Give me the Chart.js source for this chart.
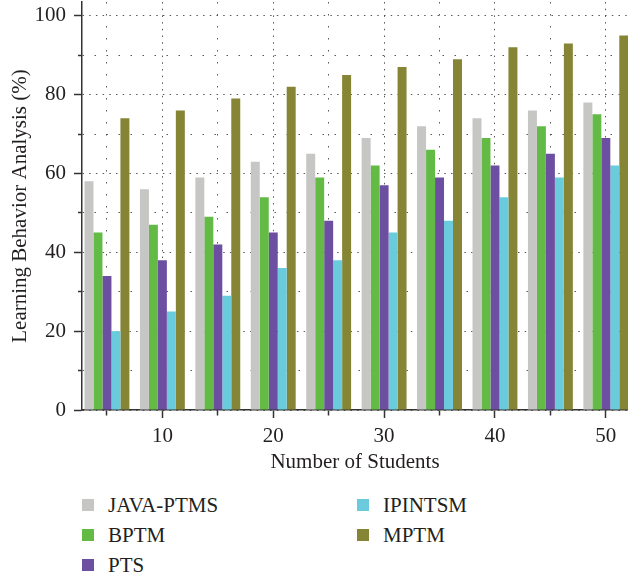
<!DOCTYPE html>
<html lang="en">
<head>
    <meta charset="UTF-8">
    <title>Learning Behavior Analysis</title>
    <script src="https://cdn.jsdelivr.net/npm/chart.js"></script>
    <style>
        body { margin: 0; background: #fff; }
        .wrap { position: relative; width: 628px; height: 578px; }
        #chart-box { position: absolute; left: 0; top: 0; width: 628px; height: 480px; }
        .legend { position: absolute; left: 82px; top: 493px; width: 540px;
            display: grid; grid-template-columns: 275px 265px; grid-auto-flow: column;
            grid-template-rows: 30px 30px 30px;
            font-family: "Liberation Serif", serif; font-size: 21px; color: #231f20; }
        .legend div { display: flex; align-items: center; height: 24px; }
        .legend span.box { width: 12px; height: 12px; margin-right: 14px; display: inline-block; }
    </style>
</head>
<body>
<div class="wrap">
    <div id="chart-box"><canvas id="chart"></canvas></div>
    <div class="legend" id="legend"></div>
</div>
<script>
    // data
    const students = [5, 10, 15, 20, 25, 30, 35, 40, 45, 50];
    const javaPtms = [58, 56, 59, 63, 65, 69, 72, 74, 76, 78];
    const bptm     = [45, 47, 49, 54, 59, 62, 66, 69, 72, 75];
    const pts      = [34, 38, 42, 45, 48, 57, 59, 62, 65, 69];
    const ipintsm  = [20, 25, 29, 36, 38, 45, 48, 54, 59, 62];
    const mptm     = [74, 76, 79, 82, 85, 87, 89, 92, 93, 95];

    const seriesNames = ['JAVA-PTMS', 'BPTM', 'PTS', 'IPINTSM', 'MPTM'];
    const seriesData = [javaPtms, bptm, pts, ipintsm, mptm];
    const seriesColors = ['#c6c6c5', '#63bb46', '#6c4fa0', '#6acbdc', '#858535'];

    const font = { family: '"Liberation Serif", serif', size: 21 };
    const ink = '#231f20';
    const axisColor = '#333333';
    const dotColor = 'rgba(60,60,60,0.85)';

    const datasets = seriesNames.map((name, k) => ({
        label: name,
        data: students.map((s, i) => ({ x: s, y: seriesData[k][i] })),
        backgroundColor: seriesColors[k],
        borderWidth: 0,
        categoryPercentage: 0.81,
        barPercentage: 1.0
    }));

    new Chart(document.getElementById('chart').getContext('2d'), {
        type: 'bar',
        data: { datasets: datasets },
        options: {
            responsive: true,
            maintainAspectRatio: false,
            animation: false,
            layout: { padding: { top: 2, right: 0, bottom: 0, left: 0 } },
            plugins: { legend: { display: false }, tooltip: { enabled: false } },
            scales: {
                x: {
                    type: 'linear',
                    min: 2.75,
                    max: 52,
                    offset: false,
                    afterFit: (s) => { s.height = 70; s.paddingLeft = 0; s.paddingRight = 0; },
                    ticks: {
                        stepSize: 5,
                        includeBounds: false,
                        autoSkip: false,
                        maxRotation: 0,
                        padding: 6,
                        color: ink,
                        font: font,
                        callback: (v) => (v % 10 === 0 ? v : '')
                    },
                    grid: {
                        offset: false,
                        color: dotColor,
                        lineWidth: 1,
                        tickLength: 8,
                        tickColor: axisColor,
                        tickWidth: 1.5,
                        // minor ticks only half as long
                        tickBorderDash: (ctx) => (ctx.tick && ctx.tick.value % 10 === 0 ? [] : [5, 20])
                    },
                    border: {
                        color: axisColor,
                        width: 1.5,
                        dash: (ctx) => (ctx.tick && ctx.tick.value % 10 === 0 ? [1.5, 5.2] : [1.5, 10.5])
                    },
                    title: {
                        display: true,
                        text: 'Number of Students',
                        color: ink,
                        font: font,
                        padding: { top: 0, bottom: 5 }
                    }
                },
                y: {
                    min: 0,
                    max: 103.5,
                    afterFit: (s) => { s.width = 82; s.paddingTop = 0; s.paddingBottom = 0; },
                    ticks: {
                        stepSize: 10,
                        includeBounds: false,
                        autoSkip: false,
                        padding: 8,
                        color: ink,
                        font: font,
                        callback: (v) => (v % 20 === 0 ? v : '')
                    },
                    grid: {
                        color: dotColor,
                        lineWidth: 1,
                        tickLength: 8,
                        tickWidth: 1.5,
                        tickColor: axisColor,
                        tickBorderDash: (ctx) => (ctx.tick && ctx.tick.value % 20 === 0 ? [] : [0, 4, 20])
                    },
                    border: {
                        color: axisColor,
                        width: 1.5,
                        dash: (ctx) => (ctx.tick && ctx.tick.value % 20 === 0 ? [1.5, 5.2] : [1.5, 10.5])
                    },
                    title: {
                        display: true,
                        text: 'Learning Behavior Analysis (%)',
                        color: ink,
                        font: font,
                        padding: { top: 8, bottom: 0 }
                    }
                }
            }
        }
    });

    // legend: two columns, filled top to bottom
    const legendEl = document.getElementById('legend');
    seriesNames.forEach((name, k) => {
        const item = document.createElement('div');
        const box = document.createElement('span');
        box.className = 'box';
        box.style.background = seriesColors[k];
        item.appendChild(box);
        item.appendChild(document.createTextNode(name));
        legendEl.appendChild(item);
    });
</script>
</body>
</html>
